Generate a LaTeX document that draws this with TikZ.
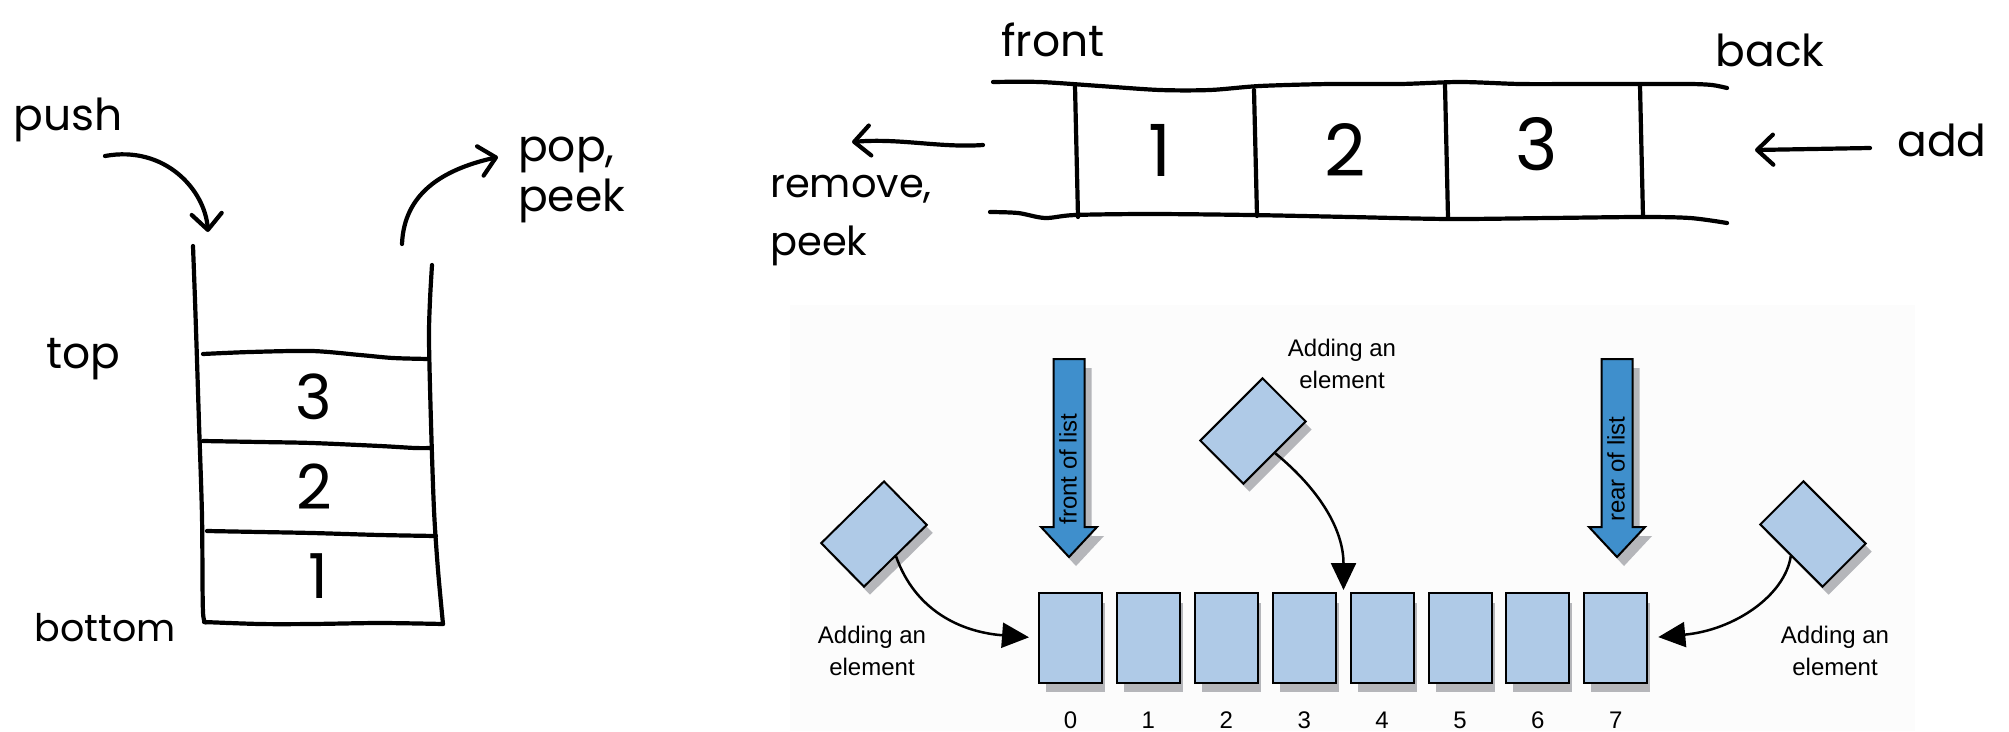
\documentclass[tikz,border=0pt]{standalone}
\usepackage{fontspec}
\usetikzlibrary{arrows.meta}
\newfontfamily\handfont{Poppins}
\newfontfamily\helvfont{Liberation Sans}

\definecolor{cellblue}{HTML}{AFCAE7}
\definecolor{listblue}{HTML}{3F8FCC}
\definecolor{shadowgray}{HTML}{B5B6BA}
\definecolor{panelgray}{HTML}{FCFCFC}

\tikzset{
	hand/.style={line width=4.2pt, line cap=round, line join=round},
	handarrow/.style={hand, -{Straight Barb[length=16pt,width=30pt,round]}},
	handtext/.style={font=\handfont\fontsize{44}{50}\selectfont, inner sep=0pt},
	handnum/.style={font=\handfont\fontsize{62}{66}\selectfont, inner sep=0pt},
	cell/.style={draw, line width=2pt, fill=cellblue, minimum width=63pt, minimum height=90pt, inner sep=0pt},
	cellshadow/.style={fill=shadowgray, minimum width=59pt, minimum height=89pt, inner sep=0pt},
	card/.style={draw, line width=2pt, fill=cellblue, minimum width=88pt, minimum height=61pt, inner sep=0pt},
	cardshadow/.style={fill=shadowgray, minimum width=88pt, minimum height=61pt, inner sep=0pt},
	addarrow/.style={line width=2.5pt, -{Triangle[length=27pt,width=25pt]}},
	caption/.style={font=\helvfont\fontsize{24}{32}\selectfont, align=center, inner sep=0pt},
	indexlbl/.style={font=\helvfont\fontsize{24}{28}\selectfont, inner sep=0pt},
	endlbl/.style={font=\helvfont\fontsize{24}{28}\selectfont, inner sep=0pt, rotate=90}
}

\begin{document}
\begin{tikzpicture}[x=1pt, y=-1pt]
	\useasboundingbox (0,0) rectangle (2009,731);

	% Stack:
	\draw[hand] plot[smooth] coordinates {(193,246) (195,300) (197,360) (199,423) (202,516) (203,612) (207,622)};
	\draw[hand] plot[smooth] coordinates {(204,622) (260,624) (312,624) (380,623) (443,624)};
	\draw[hand] plot[smooth] coordinates {(432,265) (430,300) (429,340) (431,423) (434,510) (438,570) (443,624)};
	\draw[hand] plot[smooth] coordinates {(203,354) (250,352) (312,351) (360,355) (393,358) (429,359)};
	\draw[hand] plot[smooth] coordinates {(203,441) (260,442) (312,443) (380,446) (415,448) (431,448)};
	\draw[hand] plot[smooth] coordinates {(207,531) (260,532) (312,533) (380,535) (436,536)};
	\node[handnum] (s3) at (314,397) {3};
	\node[handnum] (s2) at (314,487) {2};
	\node[handnum] (s1) at (318,576) {1};
	\node[handtext] (top) at (83,359) {top};
	\node[handtext, font=\handfont\fontsize{38}{44}\selectfont] (bottom) at (105,628) {bottom};
	\node[handtext] (push) at (68,120) {push};
	\node[handtext, align=left, anchor=west] (pop) at (518,180) {pop,\\peek};
	\coordinate (pushtail) at (105,156);
	\coordinate (pushtip) at (208,232);
	\coordinate (poptail) at (402,244);
	\coordinate (poptip) at (498,157);
	\draw[handarrow] (pushtail) .. controls (165,145) and (205,190) .. (pushtip);
	\draw[handarrow] (poptail) .. controls (404,195) and (440,170) .. (poptip);

	% Queue:
	\draw[hand] plot[smooth] coordinates {(993,82) (1040,82) (1100,86) (1160,90) (1210,90) (1260,86) (1330,84) (1400,84) (1460,82) (1520,84) (1580,84) (1640,84) (1690,84) (1712,85) (1727,88)};
	\draw[hand] plot[smooth] coordinates {(990,212) (1018,213) (1045,218) (1075,215) (1150,214) (1250,215) (1350,217) (1450,219) (1550,218) (1640,217) (1690,218) (1727,223)};
	\draw[hand] (1075,86) -- (1078,217);
	\draw[hand] (1254,90) -- (1257,216);
	\draw[hand] (1445,85) -- (1448,218);
	\draw[hand] (1640,86) -- (1643,217);
	\node[handnum, font=\handfont\fontsize{72}{76}\selectfont] (q1) at (1160,150) {1};
	\node[handnum, font=\handfont\fontsize{72}{76}\selectfont] (q2) at (1345,150) {2};
	\node[handnum, font=\handfont\fontsize{72}{76}\selectfont] (q3) at (1537,144) {3};
	\node[handtext] (front) at (1053,40) {front};
	\node[handtext] (back) at (1770,50) {back};
	\node[handtext] (add) at (1942,140) {add};
	\node[handtext, font=\handfont\fontsize{40}{58}\selectfont, align=left, anchor=west] (remove) at (770,221) {remove,\\peek};
	\coordinate (rmtail) at (983,145);
	\coordinate (rmtip) at (852,142);
	\coordinate (addtail) at (1870,148);
	\coordinate (addtip) at (1755,150);
	\draw[handarrow] (rmtail) .. controls (940,148) and (900,138) .. (rmtip);
	\draw[handarrow] (addtail) -- (addtip);

	% List with its cells and the cards being added:
	\fill[panelgray] (790,305) rectangle (1915,731);
	\foreach \x/\name in {1069/front, 1617/rear} {
		\fill[shadowgray, shift={(7,9)}] (\x-15.5,359) -- (\x+15.5,359) -- (\x+15.5,527) -- (\x+28,527) -- (\x,557) -- (\x-28,527) -- (\x-15.5,527) -- cycle;
		\draw[line width=2pt, fill=listblue, line join=miter] (\x-15.5,359) -- (\x+15.5,359) -- (\x+15.5,527) -- (\x+28,527) -- (\x,557) -- (\x-28,527) -- (\x-15.5,527) -- cycle;
		\node[endlbl] (\name lbl) at (\x-1,469) {\name\ of list};
	}
	\foreach \i [evaluate=\i as \cx using 1070.5+77.9*\i] in {0,...,7} {
		\node[cellshadow] (sh\i) at (\cx+5,647.5) {};
		\node[cell] (e\i) at (\cx,638) {};
		\node[indexlbl] (n\i) at (\cx,720) {\i};
	}
	\node[cardshadow, rotate=44.5] (c1sh) at (880,542) {};
	\node[card, rotate=44.5] (c1) at (874,534) {};
	\node[cardshadow, rotate=45] (c2sh) at (1259,439) {};
	\node[card, rotate=45] (c2) at (1253,431) {};
	\node[cardshadow, rotate=-45] (c3sh) at (1819,542) {};
	\node[card, rotate=-45] (c3) at (1813,534) {};
	\coordinate (slot) at (1343.5,590);
	\draw[addarrow, shorten >=9pt] (c1.south) .. controls (915,610) and (960,632) .. (e0.west);
	\draw[addarrow] (c2.south) .. controls (1320,490) and (1343.5,530) .. (slot);
	\draw[addarrow, shorten >=10pt] (c3.south) .. controls (1785,595) and (1735,630) .. (e7.east);
	\node[caption] (cap1) at (872,651) {Adding an\\element};
	\node[caption] (cap2) at (1342,364) {Adding an\\element};
	\node[caption] (cap3) at (1835,651) {Adding an\\element};
\end{tikzpicture}
\end{document}
